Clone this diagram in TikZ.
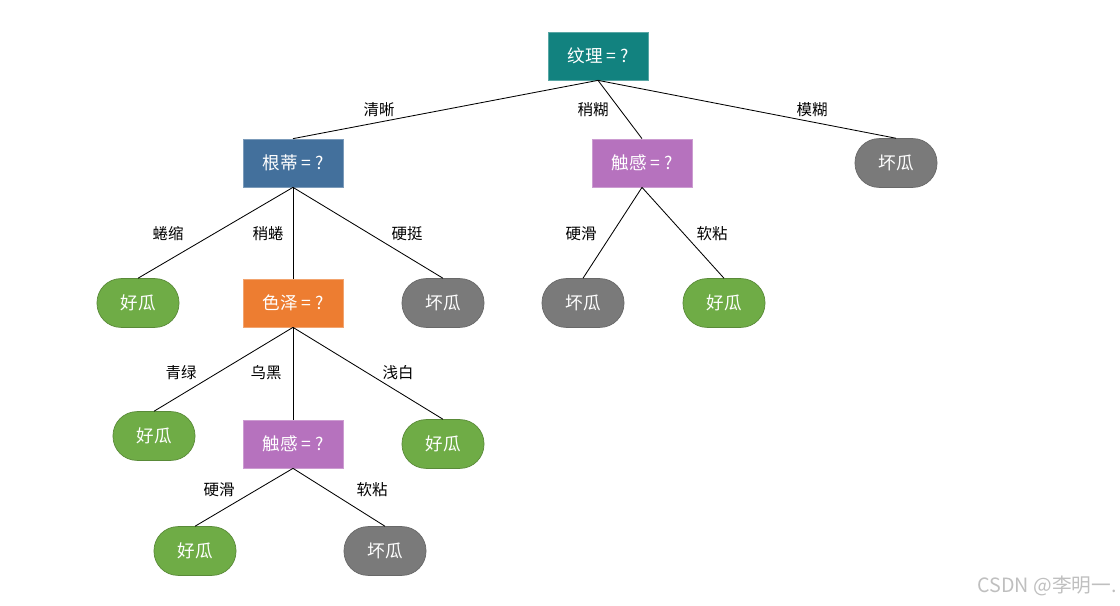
\documentclass[tikz,border=0pt]{standalone}
\usepackage{fontspec}
\setmainfont{Noto Sans CJK SC}
\usepackage{tikz}
\usetikzlibrary{calc}
\usepackage{xcolor}
\definecolor{tealq}{HTML}{12827F}
\definecolor{blueq}{HTML}{43709C}
\definecolor{purpq}{HTML}{B672BE}
\definecolor{orgq}{HTML}{ED7D31}
\definecolor{goodc}{HTML}{6FAC46}
\definecolor{badc}{HTML}{7A7A7A}
\tikzset{
  qbox/.style={rectangle, minimum width=2.5cm, minimum height=1.2cm, inner sep=0pt,
    text=white, font=\fontsize{12.5}{15}\selectfont, line width=0.5pt},
  leaf/.style={rectangle, rounded corners=0.6cm, minimum width=2.05cm, minimum height=1.22cm,
    inner sep=0pt, text=white, font=\fontsize{12.5}{15}\selectfont, line width=0.5pt},
  good/.style={leaf, fill=goodc, draw=goodc!80!black},
  bad/.style={leaf, fill=badc, draw=badc!85!black},
  branch/.style={line width=0.6pt, draw=black},
  lbl/.style={font=\fontsize{11}{13}\selectfont, text=black, inner sep=1pt},
}
\begin{document}
\begin{tikzpicture}[x=0.025cm, y=-0.025cm]
  \useasboundingbox (0,0) rectangle (1120,606);
  % decision nodes
  \node[qbox, fill=tealq, draw=tealq!70!white] (wl) at (598,56) {纹理 = ?};
  \node[qbox, fill=blueq, draw=blueq!70!white] (gd) at (293,163) {根蒂 = ?};
  \node[qbox, fill=purpq, draw=purpq!70!white] (cg1) at (642,163) {触感 = ?};
  \node[qbox, fill=orgq, draw=orgq!70!white] (sz) at (293,303) {色泽 = ?};
  \node[qbox, fill=purpq, draw=purpq!70!white] (cg2) at (293,444) {触感 = ?};
  % leaves
  \node[bad] (b1) at (896,163) {坏瓜};
  \node[good] (g1) at (138,303) {好瓜};
  \node[bad] (b2) at (443,303) {坏瓜};
  \node[bad] (b3) at (583,303) {坏瓜};
  \node[good] (g2) at (724,303) {好瓜};
  \node[good] (g3) at (154,436) {好瓜};
  \node[good] (g4) at (443,444) {好瓜};
  \node[good] (g5) at (195,551) {好瓜};
  \node[bad] (b4) at (385,551) {坏瓜};
  % branches
  \foreach \c in {gd,cg1,b1} \draw[branch] (wl.south) -- (\c.north);
  \foreach \c in {g1,sz,b2} \draw[branch] (gd.south) -- (\c.north);
  \foreach \c in {b3,g2} \draw[branch] (cg1.south) -- (\c.north);
  \foreach \c in {g3,cg2,g4} \draw[branch] (sz.south) -- (\c.north);
  \foreach \c in {g5,b4} \draw[branch] (cg2.south) -- (\c.north);
  % branch labels
  \node[lbl] (l-qx) at (379,110) {清晰};
  \node[lbl] (l-sh) at (593,110) {稍糊};
  \node[lbl] (l-mh) at (812,110) {模糊};
  \node[lbl] (l-qs) at (168,234) {蜷缩};
  \node[lbl] (l-sq) at (268,234) {稍蜷};
  \node[lbl] (l-yt) at (407,234) {硬挺};
  \node[lbl] (l-yh1) at (581,234) {硬滑};
  \node[lbl] (l-rz1) at (712,234) {软粘};
  \node[lbl] (l-ql) at (181,373) {青绿};
  \node[lbl] (l-wh) at (266,373) {乌黑};
  \node[lbl] (l-qb) at (398,373) {浅白};
  \node[lbl] (l-yh2) at (219,490) {硬滑};
  \node[lbl] (l-rz2) at (372,490) {软粘};
  % watermark
  \node[font=\fontsize{14}{16}\selectfont, text=black!25, anchor=east, inner sep=0pt]
    (wm) at (1117,586) {CSDN @李明一.};
\end{tikzpicture}
\end{document}
